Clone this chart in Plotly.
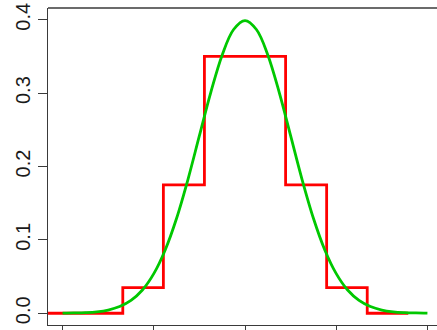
import plotly.graph_objects as go

# Step (histogram-style) function: bin left edges and density heights
step_edges = [-4.47, -3.58, -2.68, -1.79, -0.89, 0.0, 0.89, 1.79, 2.68, 3.58]
step_heights = [0.0, 0.0, 0.035, 0.175, 0.35, 0.35, 0.175, 0.035, 0.0]

# Smooth bell curve points
curve_x = [-4.0, -3.75, -3.5, -3.25, -3.0, -2.75, -2.5, -2.25, -2.0, -1.75, -1.5, -1.25,
           -1.0, -0.75, -0.5, -0.25, 0.0, 0.25, 0.5, 0.75, 1.0, 1.25, 1.5, 1.75,
           2.0, 2.25, 2.5, 2.75, 3.0, 3.25, 3.5, 3.75, 4.0]
curve_y = [0.0001, 0.0004, 0.0009, 0.0020, 0.0044, 0.0091, 0.0175, 0.0317, 0.0540, 0.0863,
           0.1295, 0.1826, 0.2420, 0.3011, 0.3521, 0.3867, 0.3989, 0.3867, 0.3521, 0.3011,
           0.2420, 0.1826, 0.1295, 0.0863, 0.0540, 0.0317, 0.0175, 0.0091, 0.0044, 0.0020,
           0.0009, 0.0004, 0.0001]

x_ticks = [-4, -2, 0, 2, 4]
y_ticks = [0.0, 0.1, 0.2, 0.3, 0.4]
y_tick_labels = ["0.0", "0.1", "0.2", "0.3", "0.4"]

fig = go.Figure()
fig.add_trace(go.Scatter(
    x=step_edges, y=step_heights + [step_heights[-1]],
    mode="lines", line=dict(color="#FF0000", width=2.8, shape="hv"),
    hoverinfo="skip", showlegend=False, cliponaxis=True))
fig.add_trace(go.Scatter(
    x=curve_x, y=curve_y,
    mode="lines", line=dict(color="#00C800", width=2.8, shape="spline", smoothing=1.0),
    hoverinfo="skip", showlegend=False, cliponaxis=True))

frame_color = "#3a3a3a"
fig.update_layout(
    width=437, height=330,
    margin=dict(l=48, r=0, t=8, b=5),
    paper_bgcolor="white", plot_bgcolor="white",
    font=dict(family="Arial, Liberation Sans, sans-serif", color="#1a1a1a"),
    xaxis=dict(range=[-4.32, 4.21], tickvals=x_ticks, showticklabels=False,
               ticks="outside", ticklen=9, tickwidth=1.2, tickcolor=frame_color,
               showline=True, linecolor=frame_color, linewidth=1.3, automargin=False,
               showgrid=False, zeroline=False, fixedrange=True),
    yaxis=dict(range=[-0.016, 0.416], tickvals=y_ticks, ticktext=y_tick_labels,
               tickangle=-90, tickfont=dict(size=20), automargin=False,
               ticklabeloverflow="allow",
               ticks="outside", ticklen=9, tickwidth=1.2, tickcolor=frame_color,
               showline=True, linecolor=frame_color, linewidth=1.3,
               showgrid=False, zeroline=False, fixedrange=True),
    shapes=[dict(type="line", xref="paper", yref="paper", x0=0, x1=1, y0=1, y1=1,
                 line=dict(color=frame_color, width=1.3))],
)

# Remove the browser's default page margin so the figure fills the window exactly.
fig.write_html("out.html", config={"displayModeBar": False},
               post_script="document.body.style.margin='0px';"
                           "document.body.style.overflow='hidden';")
